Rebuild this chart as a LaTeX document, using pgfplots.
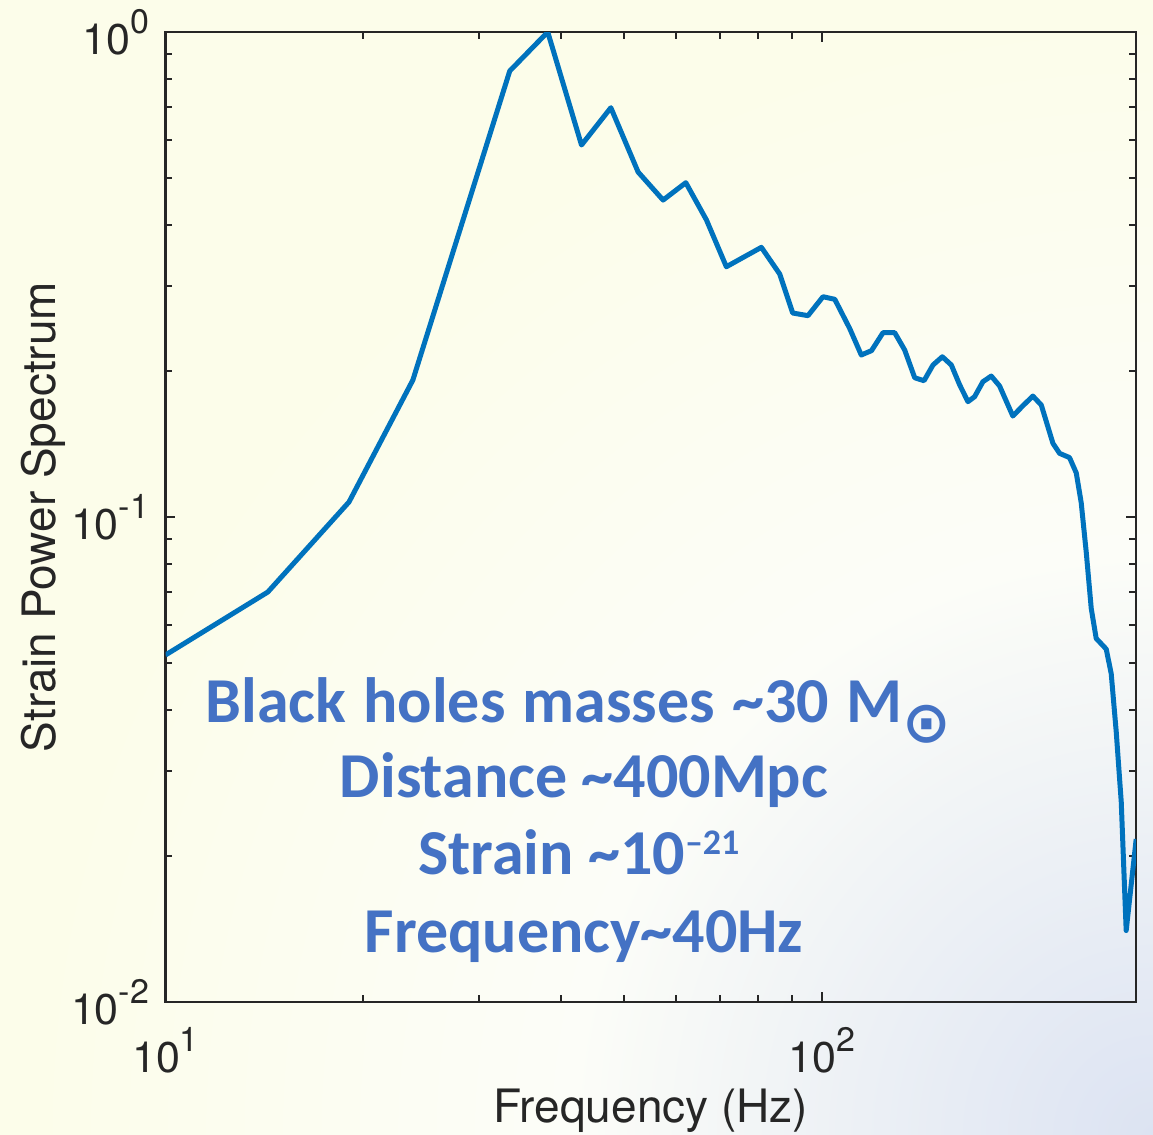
\documentclass[border=0pt]{standalone}
\usepackage{fontspec}
\setmainfont{TeX Gyre Heros}
\newfontfamily\calfont{Carlito}
\newfontfamily\djv{DejaVu Sans}
\usepackage{pgfplots}
\pgfplotsset{compat=1.18}
\definecolor{lineblue}{HTML}{0072BD}
\definecolor{axgray}{HTML}{262626}
\definecolor{txtblue}{HTML}{4472C4}
\definecolor{bgY}{HTML}{FCFDEA}
\definecolor{bgW}{HTML}{FCFDF8}
\definecolor{bgB}{HTML}{DCE3F2}
\pgfdeclareradialshading{bgshade}{\pgfpoint{0bp}{0bp}}{color(0bp)=(bgB); color(13bp)=(bgW); color(25bp)=(bgY); color(50bp)=(bgY)}
\newcommand\tl[1]{10\raisebox{10.5pt}{\fontsize{17}{18}\selectfont #1}}
\newcommand\annfont{\calfont\bfseries\fontsize{32}{38}\selectfont}
\newcommand\lblfont{\fontsize{23}{26}\selectfont}
\pgfplotstableread{
f v
10 0.05194
14.32 0.07004
19.04 0.10738
23.82 0.19158
33.47 0.8311
38.24 1.0
43.05 0.5848
47.72 0.6982
52.51 0.5144
57.32 0.4503
62.08 0.4890
66.74 0.4098
71.57 0.3281
80.92 0.3598
86.30 0.3170
90.33 0.2634
95.30 0.2601
100.46 0.2846
104.7 0.2811
110.3 0.2449
114.9 0.2158
119.1 0.2203
124.0 0.2399
129.2 0.2399
133.8 0.2210
138.6 0.1937
143.2 0.1910
147.8 0.2058
152.7 0.2140
157.6 0.2058
162.3 0.1872
167.1 0.1729
171.0 0.1770
176.1 0.1901
181.3 0.1953
186.7 0.1863
195.6 0.1615
202.6 0.1696
209.8 0.1776
216.1 0.1702
225.1 0.1419
230.4 0.1353
238.6 0.1326
244.3 0.1233
248.6 0.1070
253.0 0.08472
257.5 0.06478
262.0 0.05620
271.4 0.05342
276.2 0.04754
281.1 0.03608
286.1 0.02585
291.1 0.01404
301.5 0.02168
}\spectrum
\begin{document}
\begin{tikzpicture}
\path[use as bounding box] (0,0) rectangle (576.5pt,567.5pt);
\fill[bgY] (0,0) rectangle (576.5pt,567.5pt);
\begin{scope}
\clip (0,0) rectangle (576.5pt,567.5pt);
\shade[shading=bgshade] (576.5pt,0) circle (560pt);
\end{scope}
\begin{axis}[
  at={(82.75pt,66.5pt)}, anchor=south west,
  scale only axis, width=485.25pt, height=485pt,
  xmode=log, ymode=log,
  xmin=10, xmax=301.3, ymin=0.01, ymax=1,
  xtick={10,100}, xticklabels={\tl{1},\tl{2}},
  ytick={0.01,0.1,1}, yticklabels={\tl{-2},\tl{-1},\tl{0}},
  axis line style={axgray, line width=1.2pt},
  tick style={axgray, line width=1pt},
  major tick length=5pt, minor tick length=3.3pt,
  tick align=inside,
  tick label style={font=\fontsize{21.5}{24}\selectfont, text=axgray},
  x tick label style={anchor=base, yshift=-35pt},
  y tick label style={anchor=east, inner sep=0pt, xshift=-8pt},
  xlabel={Frequency (Hz)}, ylabel={Strain Power Spectrum},
  every axis x label/.style={at={(axis description cs:0.5,0)}, yshift=-60pt, anchor=base, font=\lblfont, text=axgray},
  every axis y label/.style={at={(axis description cs:0,0.5)}, xshift=-55.25pt, rotate=90, anchor=base, font=\lblfont, text=axgray},
]
\addplot[lineblue, line width=2.5pt, line join=round] table[x=f, y=v] {\spectrum};
\end{axis}
\node[anchor=base west, inner sep=0pt, text=txtblue, font=\annfont] at (102.5pt,206pt)
  {\spaceskip=8.6pt Black holes masses \textasciitilde 30 M{\djv\bfseries\fontsize{29}{30}\selectfont\raisebox{-10pt}{⊙}}};
\node[anchor=base, inner sep=0pt, text=txtblue, font=\annfont] at (292pt,168.5pt)
  {Distance \textasciitilde 400Mpc};
\node[anchor=base west, inner sep=0pt, text=txtblue, font=\annfont] at (209pt,130pt)
  {Strain \textasciitilde 10\raisebox{10pt}{\fontsize{18}{19}\selectfont\textendash 21}};
\node[anchor=base, inner sep=0pt, text=txtblue, font=\annfont] at (292pt,91pt)
  {Frequency\textasciitilde 40Hz};
\end{tikzpicture}
\end{document}
